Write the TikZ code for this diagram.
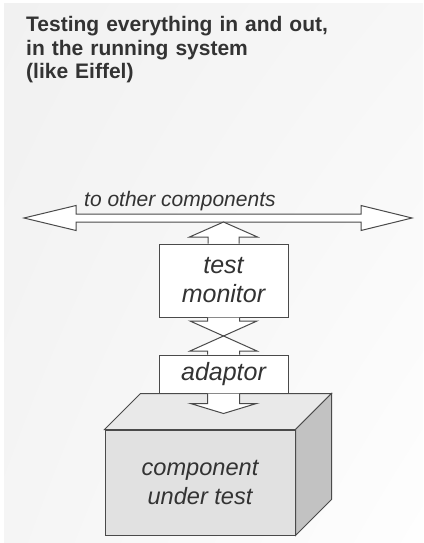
\documentclass[tikz,border=0pt]{standalone}
\usepackage{fontspec}
\setmainfont{Liberation Sans}
\usetikzlibrary{calc,shadings}
\definecolor{ink}{HTML}{4A4A4A}
\definecolor{txt}{HTML}{333333}
\definecolor{frontgray}{HTML}{E1E1E1}
\definecolor{topgray}{HTML}{E9E9E9}
\definecolor{sidegray}{HTML}{C2C2C2}
\definecolor{bgul}{HTML}{F1F1F1}
\definecolor{bgur}{HTML}{F7F7F7}
\definecolor{bgll}{HTML}{F5F5F5}
\definecolor{bglr}{HTML}{FEFEFE}
\newcommand\vblockarrow[5]{%
  \filldraw[blk] let \p1=(#1), \p2=(#2), \n1={sign(\y2-\y1)} in
    (\x1-#3pt,\y1) -- (\x1-#3pt,\y2-\n1*#5pt) -- (\x1-#4pt,\y2-\n1*#5pt) -- (\x2,\y2)
    -- (\x1+#4pt,\y2-\n1*#5pt) -- (\x1+#3pt,\y2-\n1*#5pt) -- (\x1+#3pt,\y1);}
\begin{document}
\begin{tikzpicture}[x=1pt,y=-1pt,
  outl/.style={draw=ink, line width=1pt, line join=miter},
  blk/.style={outl, fill=white},
  boxnode/.style={outl, fill=white, inner sep=0pt, align=center,
    font=\itshape\fontsize{25}{29}\selectfont, text=txt}]
\useasboundingbox (0,0) rectangle (423,543);
\shade[upper left=bgul, upper right=bgur, lower left=bgll, lower right=bglr]
  (4,4) rectangle (423,543);

\node[anchor=base west, inner sep=0pt, text width=330pt, align=left,
      font=\bfseries\fontsize{21}{23.3}\selectfont, text=txt] (title) at (26,32)
  {Testing everything in and out,\\in the running system\\(like Eiffel)};

% component under test (3D box)
\node[outl, fill=frontgray, minimum width=190pt, minimum height=105pt, inner sep=0pt,
      align=center, font=\itshape\fontsize{23.6}{29}\selectfont, text=txt] (cut) at (200,482.5)
  {component\\under test};
\filldraw[outl, fill=topgray] (cut.north west) -- ++(36,-36) -- ($(cut.north east)+(36,-36)$) -- (cut.north east) -- cycle;
\filldraw[outl, fill=sidegray] (cut.north east) -- ++(36,-36) -- ($(cut.south east)+(36,-36)$) -- (cut.south east) -- cycle;

\node[boxnode, minimum width=129pt, minimum height=38pt] (adp) at (223.5,374) {adaptor};
\node[boxnode, minimum width=129pt, minimum height=73pt] (mon) at (223.5,280.5) {test\\monitor};

\coordinate (busL) at (24,218);
\coordinate (busR) at (412,218);
\coordinate (busB) at (223.5,222);
\coordinate (mid) at (223.5,336);
\coordinate (cutT) at ($(cut.north)+(23.5,-16)$);

% bus double arrow
\filldraw[blk] let \p1=(busL), \p2=(busR) in
  (\x1,\y1) -- (\x1+52pt,\y1+12.5pt) -- (\x1+52pt,\y1+4pt) -- (\x2-51pt,\y1+4pt)
  -- (\x2-51pt,\y1+12.5pt) -- (\x2,\y2) -- (\x2-51pt,\y1-12.5pt) -- (\x2-51pt,\y1-4pt)
  -- (\x1+52pt,\y1-4pt) -- (\x1+52pt,\y1-12.5pt) -- cycle;
\node[anchor=base west, inner sep=0pt, font=\itshape\fontsize{21}{25}\selectfont, text=txt] (lbl) at (84,206) {to other components};

\vblockarrow{mon.north}{busB}{15.5}{34}{15}
\vblockarrow{mon.south}{mid}{16}{33.5}{15}
\vblockarrow{adp.north}{mid}{16}{33.5}{15}
\vblockarrow{adp.south}{cutT}{16}{33}{10}
\end{tikzpicture}
\end{document}
